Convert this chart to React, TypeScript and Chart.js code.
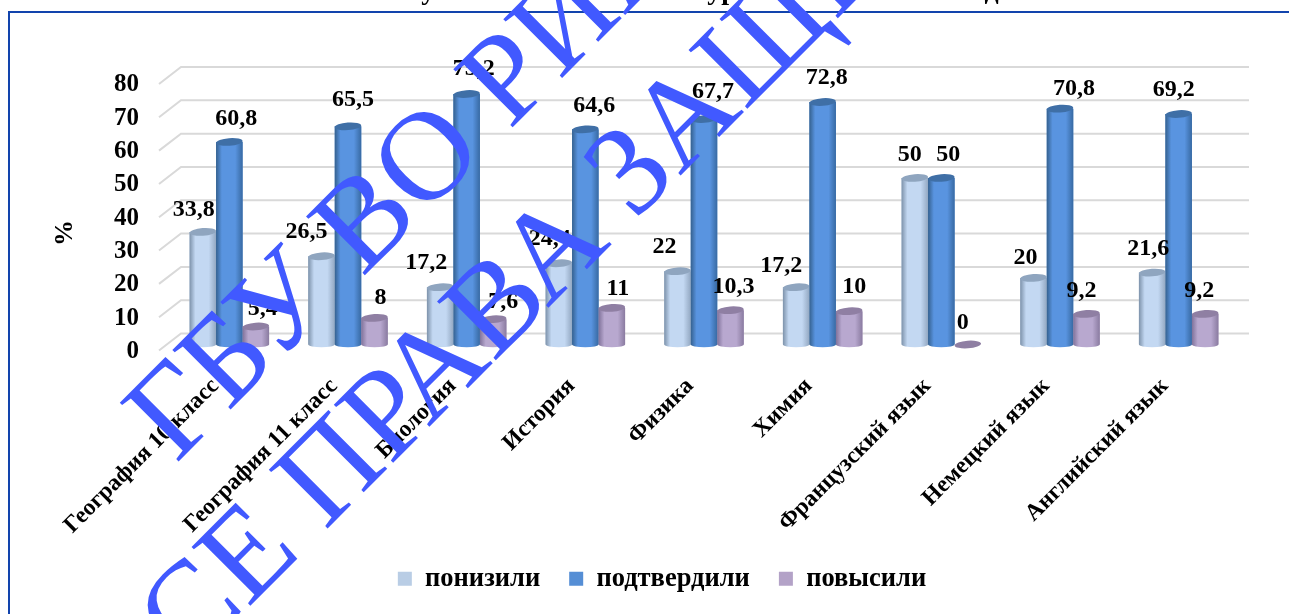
import React, { useEffect, useRef } from "react";
import { Chart, registerables } from "chart.js";

Chart.register(...registerables);

const categories = [
  "География 10 класс",
  "География 11 класс",
  "Биология",
  "История",
  "Физика",
  "Химия",
  "Французский язык",
  "Немецкий язык",
  "Английский язык",
];
const lowered = [33.8, 26.5, 17.2, 24.4, 22, 17.2, 50, 20, 21.6];
const confirmed = [60.8, 65.5, 75.2, 64.6, 67.7, 72.8, 50, 70.8, 69.2];
const raised = [5.4, 8, 7.6, 11, 10.3, 10, 0, 9.2, 9.2];
const yTicks = [0, 10, 20, 30, 40, 50, 60, 70, 80];

// hand-placed label nudges of the original chart (px from the top centre of each bar)
const nudgeX = [
  [-10, -16, -15, -10, -14, -16, -6, -9, -5],
  [6, 4, 6, 8, 8, 3, 6, 13, -6],
  [6, 5, 9, 5, 2, 4, -6, -6, -7],
];
const nudgeY = [
  [-22, -24, -24, -24, -24, -21, -23, -20, -24],
  [-23, -27, -25, -24, -27, -24, -23, -20, -24],
  [-18, -20, -17, -19, -23, -24, -22, -23, -23],
];

const SERIF = '"Liberation Serif", "Times New Roman", serif';
const fmt = (v: number) => String(v).replace(".", ",");

const looks = [
  { fill: "#b9cde5", edgeL: "#7d92aa", mid: "#c3d8f2", edgeR: "#93a8c2", cap: "#8fa5bf" },
  { fill: "#558ed5", edgeL: "#35618f", mid: "#5994e0", edgeR: "#386aa3", cap: "#3f6fa6" },
  { fill: "#b3a2c7", edgeL: "#80729a", mid: "#b8a8cf", edgeR: "#8a7ba0", cap: "#8f7fa3" },
];

const wallPlugin = {
  id: "wall",
  beforeDatasetsDraw(chart: any) {
    const { ctx, scales, chartArea } = chart;
    ctx.save();
    ctx.strokeStyle = "#d9d9d9";
    ctx.lineWidth = 2;
    yTicks.forEach((t) => {
      const y = scales.y.getPixelForValue(t);
      ctx.beginPath();
      ctx.moveTo(chartArea.left - 11, y + 6);
      ctx.lineTo(chartArea.left + 11, y - 11);
      ctx.lineTo(chartArea.right + 11, y - 11);
      ctx.stroke();
    });
    ctx.restore();
  },
};

const cylinderPlugin = {
  id: "cylinder",
  afterDatasetsDraw(chart: any) {
    const { ctx } = chart;
    const ry = 3.8;
    chart.data.datasets.forEach((ds: any, si: number) => {
      const look = looks[si];
      chart.getDatasetMeta(si).data.forEach((bar: any, i: number) => {
        const w = bar.width;
        const x0 = bar.x - w / 2;
        const x1 = bar.x + w / 2;
        const top = bar.y;
        const base = bar.base;
        ctx.save();
        if (ds.data[i] > 0) {
          const g = ctx.createLinearGradient(x0, 0, x1, 0);
          g.addColorStop(0, look.edgeL);
          g.addColorStop(0.22, look.mid);
          g.addColorStop(0.72, look.mid);
          g.addColorStop(1, look.edgeR);
          ctx.fillStyle = g;
          ctx.beginPath();
          ctx.moveTo(x0, top);
          ctx.lineTo(x0, base);
          ctx.ellipse(bar.x, base, w / 2, ry - 1, 0, Math.PI, 0, true);
          ctx.lineTo(x1, top);
          ctx.closePath();
          ctx.fill();
        }
        ctx.fillStyle = look.cap;
        ctx.beginPath();
        ctx.ellipse(bar.x, top, w / 2, ry, -0.07, 0, Math.PI * 2);
        ctx.fill();
        ctx.restore();
      });
    });
  },
};

const valueLabelPlugin = {
  id: "valueLabels",
  afterDatasetsDraw(chart: any) {
    const { ctx } = chart;
    ctx.save();
    ctx.font = `bold 24px ${SERIF}`;
    ctx.fillStyle = "#000";
    ctx.textAlign = "center";
    ctx.textBaseline = "middle";
    chart.data.datasets.forEach((ds: any, si: number) => {
      chart.getDatasetMeta(si).data.forEach((bar: any, i: number) => {
        ctx.fillText(fmt(ds.data[i]), bar.x + nudgeX[si][i] + 1, bar.y + nudgeY[si][i]);
      });
    });
    ctx.restore();
  },
};

const chartTitle = "Результаты экзаменов по уровню за учебный год";

const framePlugin = {
  id: "frame",
  afterDraw(chart: any) {
    const { ctx, width, height } = chart;
    ctx.save();
    // clipped chart title along the top edge
    ctx.font = `bold 28px ${SERIF}`;
    ctx.fillStyle = "#000";
    ctx.textAlign = "center";
    ctx.textBaseline = "alphabetic";
    ctx.fillText(chartTitle, 690, -1);
    // frame
    ctx.strokeStyle = "#1244ad";
    ctx.lineWidth = 2;
    ctx.beginPath();
    ctx.moveTo(9, height);
    ctx.lineTo(9, 12);
    ctx.lineTo(width, 12);
    ctx.stroke();
    // axis title
    ctx.save();
    ctx.translate(65, 233);
    ctx.rotate(-Math.PI / 2);
    ctx.font = `bold 26px ${SERIF}`;
    ctx.textBaseline = "middle";
    ctx.fillText("%", 0, 0);
    ctx.restore();
    ctx.restore();
  },
};

const stampLines = [
  { text: "ГБУ ВО РИАЦ", x: 176, y: 464 },
  { text: "ВСЕ ПРАВА ЗАЩИЩЕНЫ", x: 128, y: 728 },
];

const stampPlugin = {
  id: "stamp",
  afterDraw(chart: any) {
    const { ctx } = chart;
    ctx.save();
    ctx.font = `127px ${SERIF}`;
    ctx.fillStyle = "#4159ff";
    ctx.textAlign = "left";
    ctx.textBaseline = "alphabetic";
    stampLines.forEach((l) => {
      ctx.save();
      ctx.translate(l.x, l.y);
      ctx.rotate(-Math.PI / 4);
      ctx.fillText(l.text, 0, 0);
      ctx.restore();
    });
    ctx.restore();
  },
};

export default function App() {
  const ref = useRef<HTMLCanvasElement>(null);
  useEffect(() => {
    const chart = new Chart(ref.current as HTMLCanvasElement, {
      type: "bar",
      data: {
        labels: categories,
        datasets: [
          { label: "понизили", data: lowered, backgroundColor: looks[0].fill },
          { label: "подтвердили", data: confirmed, backgroundColor: looks[1].fill },
          { label: "повысили", data: raised, backgroundColor: looks[2].fill },
        ],
      },
      options: {
        responsive: false,
        animation: false,
        devicePixelRatio: 1,
        layout: { padding: { top: 78, left: 86, right: 51, bottom: 12 } },
        datasets: { bar: { barPercentage: 1, categoryPercentage: 0.67 } },
        plugins: {
          title: { display: false },
          tooltip: { enabled: false },
          legend: {
            position: "bottom",
            labels: {
              color: "#000",
              boxWidth: 14,
              boxHeight: 14,
              padding: 29,
              font: { family: SERIF, size: 26.5, weight: "bold" },
            },
          },
        },
        scales: {
          x: {
            grid: { display: false },
            border: { display: false },
            afterFit: (s: any) => { s.height = 192; },
            ticks: {
              color: "#000",
              autoSkip: false,
              minRotation: 45,
              maxRotation: 45,
              padding: 20,
              labelOffset: -14,
              font: { family: SERIF, size: 23.5, weight: "bold" },
            },
          },
          y: {
            min: 0,
            max: 80,
            grid: { display: false },
            border: { display: false },
            afterFit: (s: any) => { s.width = 84; },
            afterBuildTicks: (s: any) => { s.ticks = yTicks.map((value) => ({ value })); },
            ticks: {
              color: "#000",
              padding: 23,
              labelOffset: 7,
              font: { family: SERIF, size: 25, weight: "bold" },
            },
          },
        },
      } as any,
      plugins: [wallPlugin, cylinderPlugin, valueLabelPlugin, framePlugin, stampPlugin],
    });
    return () => chart.destroy();
  }, []);
  return (
    <canvas
      ref={ref}
      width={1289}
      height={614}
      style={{ position: "absolute", left: 0, top: 0, width: 1289, height: 614, background: "#fff" }}
    />
  );
}
